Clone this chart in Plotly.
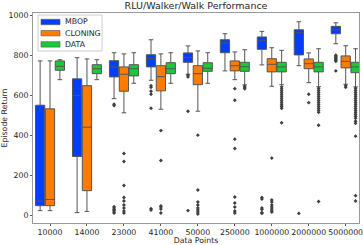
import plotly.graph_objects as go

categories = ["10000", "14000", "23000", "41000", "50000", "250000", "1000000", "2000000", "5000000"]
hues = ["MBOP", "CLONING", "DATA"]
colors = ["#023eff", "#ff7c00", "#1ac938"]

# per-hue stats per category
mbop_q1 = [47, 293, 692, 742, 765, 813, 830, 802, 908]
mbop_med = [70, 598, 742, 783, 790, 862, 873, 913, 928]
mbop_q3 = [550, 682, 773, 803, 812, 878, 892, 928, 945]
mbop_lo = [22, 12, 583, 675, 705, 722, 752, 748, 858]
mbop_hi = [772, 788, 813, 878, 847, 908, 920, 968, 963]

clon_q1 = [47, 122, 620, 622, 653, 722, 717, 733, 737]
clon_med = [78, 440, 705, 693, 708, 748, 755, 758, 770]
clon_q3 = [532, 648, 742, 748, 748, 772, 783, 782, 797]
clon_lo = [22, 18, 512, 530, 520, 678, 645, 663, 655]
clon_hi = [772, 782, 807, 807, 822, 817, 838, 812, 848]

data_q1 = [725, 708, 697, 708, 720, 720, 717, 717, 713]
data_med = [745, 733, 733, 733, 735, 743, 742, 742, 742]
data_q3 = [772, 753, 753, 763, 763, 765, 765, 765, 765]
data_lo = [678, 678, 660, 660, 660, 652, 653, 643, 642]
data_hi = [778, 778, 813, 813, 813, 828, 825, 833, 833]

mbop_out = [[], [], [555, 548, 42, 35, 28, 22, 15, 10], [648, 640, 620, 605, 535, 32, 25],
            [700, 692, 520, 22], [], [88, 80, 35, 28, 12, 8], [8],
            [800, 795, 790, 785, 780, 775, 770, 722]]
clon_out = [[], [], [308, 268, 148, 88, 70, 50, 35, 20, 10], [423, 273, 45, 40, 30, 10],
            [400, 125, 65, 50, 35, 25, 15, 5], [633, 575, 380, 333, 90, 60, 40, 20, 10],
            [285, 75, 65, 50, 40, 30, 20, 15], [605, 563], [648, 640]]
data_out = [[], [], [], [], [], [645, 638, 632],
            [642, 632, 622, 612, 602, 592, 582, 572, 562, 552, 544, 535, 462],
            [635, 625, 615, 605, 595, 585, 575, 565, 555, 545, 535, 525, 515, 450, 68],
            [635, 625, 615, 605, 595, 585, 575, 565, 555, 545, 535, 525, 515, 505, 495,
             485, 470, 460, 395, 97, 70]]

stats = [
    (mbop_q1, mbop_med, mbop_q3, mbop_lo, mbop_hi, mbop_out),
    (clon_q1, clon_med, clon_q3, clon_lo, clon_hi, clon_out),
    (data_q1, data_med, data_q3, data_lo, data_hi, data_out),
]
offsets = [-0.267, 0.0, 0.267]
box_w = 0.25

fig = go.Figure()
for h, (name, col, st, off) in enumerate(zip(hues, colors, stats, offsets)):
    q1, med, q3, lo, hi, out = st
    xs = [i + off for i in range(len(categories))]
    fig.add_trace(go.Box(
        name=name, x=xs, q1=q1, median=med, q3=q3, lowerfence=lo, upperfence=hi,
        width=box_w, fillcolor=col, line=dict(color="#555555", width=1),
        whiskerwidth=0.5, boxpoints=False, showlegend=False,
    ))
    ox, oy = [], []
    for i, vals in enumerate(out):
        for v in vals:
            ox.append(i + off)
            oy.append(v)
    fig.add_trace(go.Scatter(
        x=ox, y=oy, mode="markers", showlegend=False, hoverinfo="skip",
        marker=dict(symbol="diamond", size=3, color="#3f3f3f"),
    ))

# custom compact legend (paper coords of the 326x210 plot area)
L, T, W, H = 33, 13, 326, 210
def px(x):
    return (x - L) / W
def py(y):
    return (T + H - y) / H

shapes = [dict(type="rect", xref="paper", yref="paper", x0=px(38), x1=px(102),
               y0=py(51), y1=py(15), line=dict(color="#cccccc", width=1),
               fillcolor="white", layer="above")]
annotations = []
for k, (name, col) in enumerate(zip(hues, colors)):
    cy = 22 + k * 11.2
    shapes.append(dict(type="rect", xref="paper", yref="paper", x0=px(41), x1=px(60),
                       y0=py(cy + 2.7), y1=py(cy - 2.7), fillcolor=col,
                       line=dict(color="#555555", width=0.6), layer="above"))
    annotations.append(dict(text=name, xref="paper", yref="paper", x=px(63), y=py(cy),
                            xanchor="left", yanchor="middle", showarrow=False,
                            font=dict(size=7.8, color="#262626")))

font = "DejaVu Sans"
fig.update_layout(
    width=363, height=245,
    margin=dict(l=L, r=363 - L - W, t=T, b=245 - T - H),
    paper_bgcolor="white", plot_bgcolor="white",
    font=dict(family=font, size=7.8, color="#262626"),
    title=dict(text="RLU/Walker/Walk Performance", x=0.54, xanchor="center",
               y=0.99, yanchor="top", font=dict(size=9.5, color="#262626")),
    boxmode="overlay", showlegend=False,
    shapes=shapes, annotations=annotations,
)
fig.update_xaxes(
    range=[-0.46, 8.36], tickmode="array", tickvals=list(range(len(categories))),
    ticktext=categories, tickangle=0, automargin=False, ticklabeloverflow="allow",
    showline=True, mirror=True, linecolor="#9a9a9a",
    ticks="outside", ticklen=2, tickcolor="#555", showgrid=False, zeroline=False,
    title=dict(text="Data Points", standoff=0, font=dict(size=7.8)),
)
fig.update_yaxes(
    range=[-40, 1012], tickvals=[0, 200, 400, 600, 800, 1000], automargin=False,
    showline=True, mirror=True, linecolor="#9a9a9a",
    ticks="outside", ticklen=2, tickcolor="#555", showgrid=False, zeroline=False,
    title=dict(text="Episode Return", standoff=2, font=dict(size=7.8)),
)
fig.write_html("out.html", config={"displayModeBar": False},
               post_script="document.body.style.margin='0';document.body.style.overflow='hidden';")
